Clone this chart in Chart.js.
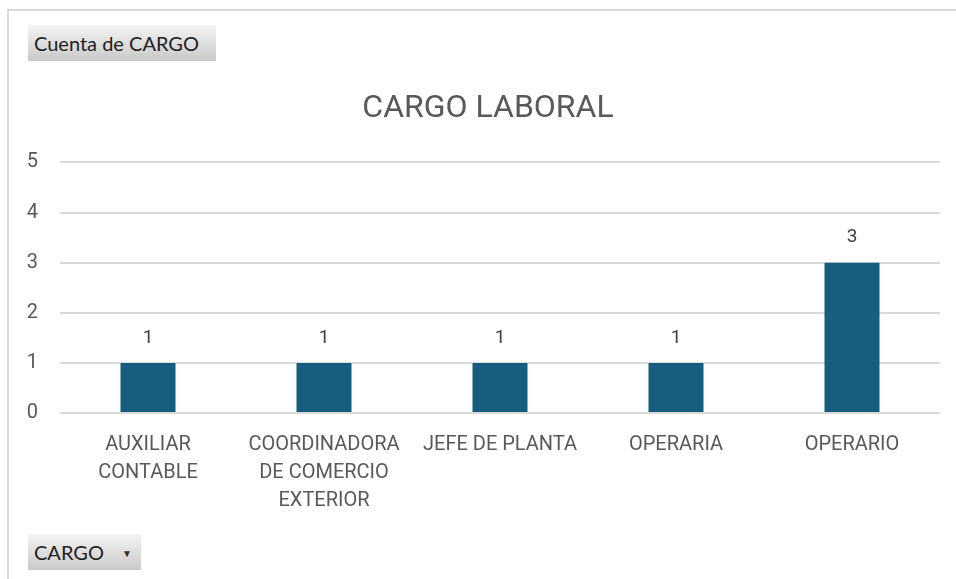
<!DOCTYPE html>
<html>
<head>
<meta charset="utf-8">
<script src="https://cdn.jsdelivr.net/npm/chart.js@4.4.0/dist/chart.umd.min.js"></script>
<style>
    body { margin: 0; background: #fff; }
    #wrap { position: relative; width: 956px; height: 579px; overflow: hidden; }
    #frame { position: absolute; left: 7px; top: 9px; width: 960px; height: 580px;
             border-top: 2px solid #d9d9d9; border-left: 2px solid #d9d9d9; }
    canvas { position: absolute; left: 0; top: 0; }
    .pivot-btn { position: absolute; height: 36px; line-height: 36px; padding-left: 6px;
                 font-family: Lato, "Open Sans", sans-serif; font-size: 20px; color: #1f1f1f;
                 background: linear-gradient(#f4f4f4, #c9c9c9); box-sizing: border-box; }
    .pivot-btn .arrow { font-size: 10px; color: #333; margin-left: 18px; position: relative; top: -3px; }
</style>
</head>
<body>
<div id="wrap">
    <div id="frame"></div>
    <canvas id="chart" width="956" height="579"></canvas>
    <div class="pivot-btn" style="left:28px; top:25px; width:188px;">Cuenta de CARGO</div>
    <div class="pivot-btn" style="left:28px; top:534px; width:113px;">CARGO<span class="arrow">&#9660;</span></div>
</div>
<script>
// Chart data
const categories = [
    ['AUXILIAR', 'CONTABLE'],
    ['COORDINADORA', 'DE COMERCIO', 'EXTERIOR'],
    'JEFE DE PLANTA',
    'OPERARIA',
    'OPERARIO'
];
const counts = [1, 1, 1, 1, 3];
const yTicks = [0, 1, 2, 3, 4, 5];

const textColor = '#595959';
const fontFamily = 'Roboto, "Liberation Sans", sans-serif';

// Simple value labels above each bar
const valueLabels = {
    id: 'valueLabels',
    afterDatasetsDraw(chart) {
        const ctx = chart.ctx;
        const meta = chart.getDatasetMeta(0);
        ctx.save();
        ctx.font = '19px ' + fontFamily;
        ctx.fillStyle = '#404040';
        ctx.textAlign = 'center';
        ctx.textBaseline = 'middle';
        meta.data.forEach((bar, i) => {
            ctx.fillText(String(counts[i]), bar.x, bar.y - 25);
        });
        ctx.restore();
    }
};

// Title sits a bit right of the canvas centre in the original
const titleNudge = {
    id: 'titleNudge',
    afterLayout(chart) {
        if (chart.titleBlock) chart.titleBlock.left += 16;
    }
};

new Chart(document.getElementById('chart'), {
    type: 'bar',
    data: {
        labels: categories,
        datasets: [{
            label: 'Total',
            data: counts,
            backgroundColor: '#175E7E',
            barPercentage: 0.625,
            categoryPercentage: 0.5
        }]
    },
    options: {
        responsive: false,
        animation: false,
        layout: { padding: { left: 20, right: 16, top: 90, bottom: 46 } },
        plugins: {
            legend: { display: false },
            tooltip: { enabled: false },
            title: {
                display: true,
                text: 'CARGO LABORAL',
                color: textColor,
                font: { family: fontFamily, size: 32, weight: 'normal' },
                padding: { top: 0, bottom: 34 }
            }
        },
        scales: {
            x: {
                grid: { display: false, drawTicks: false },
                border: { display: false },
                ticks: {
                    color: textColor,
                    font: { family: fontFamily, size: 20, lineHeight: 1.4 },
                    padding: 18,
                    maxRotation: 0,
                    autoSkip: false
                }
            },
            y: {
                min: 0,
                max: 5,
                afterBuildTicks(axis) {
                    axis.ticks = yTicks.map(v => ({ value: v }));
                },
                afterFit(axis) {
                    axis.width = 40;
                },
                grid: { color: '#d9d9d9', lineWidth: 2, drawTicks: false },
                border: { display: false },
                ticks: {
                    color: textColor,
                    font: { family: fontFamily, size: 20 },
                    padding: 22
                }
            }
        }
    },
    plugins: [valueLabels, titleNudge]
});
</script>
</body>
</html>
